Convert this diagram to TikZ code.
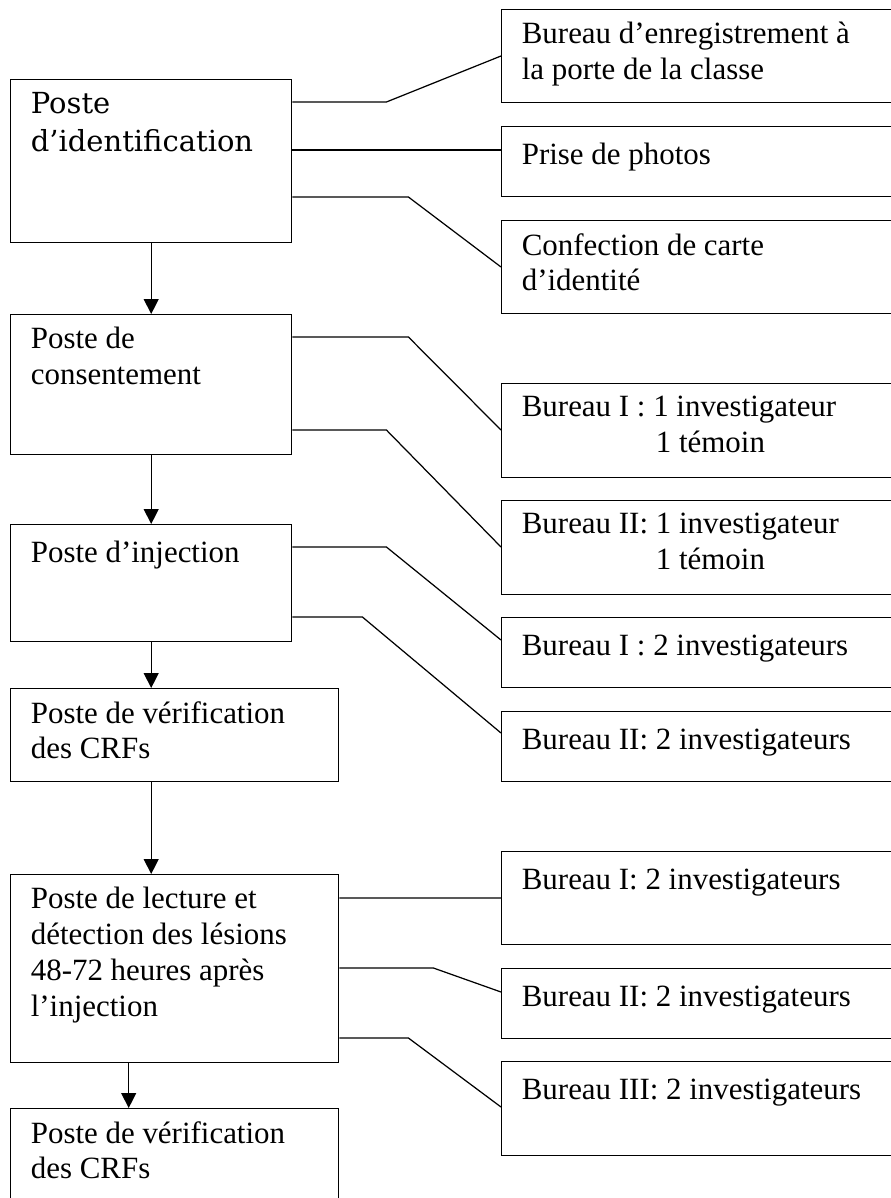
\documentclass[tikz,border=0pt]{standalone}
\usepackage{fontspec}
\setmainfont{Liberation Serif}
\newfontfamily\bookman{DejaVu Serif}
\usetikzlibrary{arrows.meta,positioning,calc}

\tikzset{
  poste/.style={draw, line width=0.8pt, anchor=north west, inner sep=0pt},
  bureau/.style={poste, minimum width=8cm},
  txt/.style={anchor=north west, align=left, inner sep=0pt, xshift=0.41cm, yshift=-0.26cm,
    font=\fontsize{17.6}{20.4}\selectfont, execute at begin node=\strut},
  lien/.style={line width=0.7pt},
  fleche/.style={line width=0.7pt, -{Triangle[width=0.3cm,length=0.3cm]}}
}

\begin{document}
\begin{tikzpicture}
        \useasboundingbox (0,0) rectangle (17.8,-23.96);

        % Postes
        \node[poste, minimum width=5.62cm, minimum height=3.26cm, label={[txt, name=t-ident, font=\bookman\fontsize{16.5}{21.6}\selectfont]north west:Poste\\d’identification}] at (0.2,-1.58) (ident) {};
        \node[poste, minimum width=5.62cm, minimum height=2.80cm, label={[txt, name=t-consent]north west:Poste de\\consentement}] at (0.2,-6.28) (consent) {};
        \node[poste, minimum width=5.62cm, minimum height=2.34cm, label={[txt, name=t-inject]north west:Poste d’injection}] at (0.2,-10.48) (inject) {};
        \node[poste, minimum width=6.56cm, minimum height=1.86cm, label={[txt, name=t-verif1]north west:Poste de vérification\\des CRFs}] at (0.2,-13.76) (verif1) {};
        \node[poste, minimum width=6.56cm, minimum height=3.76cm, label={[txt, name=t-lecture]north west:Poste de lecture et\\détection des lésions\\48-72 heures après\\l’injection}] at (0.2,-17.48) (lecture) {};
        \node[poste, minimum width=6.56cm, minimum height=2.2cm, label={[txt, name=t-verif2]north west:Poste de vérification\\des CRFs}] at (0.2,-22.16) (verif2) {};

        % Bureaux
        \node[bureau, minimum height=1.86cm, label={[txt, name=t-enreg]north west:Bureau d’enregistrement à\\la porte de la classe}] at (10.02,-0.18) (enreg) {};
        \node[bureau, minimum height=1.40cm, label={[txt, name=t-photo]north west:Prise de photos}] at (10.02,-2.52) (photo) {};
        \node[bureau, minimum height=1.86cm, label={[txt, name=t-carte]north west:Confection de carte\\d’identité}] at (10.02,-4.40) (carte) {};
        \node[bureau, minimum height=1.88cm, label={[txt, name=t-consI]north west:Bureau I : 1 investigateur\\\hspace*{2.68cm}1 témoin}] at (10.02,-7.66) (consI) {};
        \node[bureau, minimum height=1.88cm, label={[txt, name=t-consII]north west:Bureau II: 1 investigateur\\\hspace*{2.68cm}1 témoin}] at (10.02,-10.00) (consII) {};
        \node[bureau, minimum height=1.40cm, label={[txt, name=t-injI]north west:Bureau I : 2 investigateurs}] at (10.02,-12.34) (injI) {};
        \node[bureau, minimum height=1.40cm, label={[txt, name=t-injII]north west:Bureau II: 2 investigateurs}] at (10.02,-14.22) (injII) {};
        \node[bureau, minimum height=1.86cm, label={[txt, name=t-lectI]north west:Bureau I: 2 investigateurs}] at (10.02,-17.02) (lectI) {};
        \node[bureau, minimum height=1.40cm, label={[txt, name=t-lectII]north west:Bureau II: 2 investigateurs}] at (10.02,-19.36) (lectII) {};
        \node[bureau, minimum height=1.88cm, label={[txt, name=t-lectIII]north west:Bureau III: 2 investigateurs}] at (10.02,-21.22) (lectIII) {};

        % Fleches
        \draw[fleche] (ident.south) -- (consent.north);
        \draw[fleche] (consent.south) -- (inject.north);
        \draw[fleche] (inject.south) -- (inject.south |- verif1.north);
        \draw[fleche] (verif1.south -| inject.south) -- (lecture.north -| inject.south);
        \draw[fleche] ([xshift=-0.92cm]lecture.south) -- ([xshift=-0.92cm]verif2.north);

        % Liens vers les bureaux
        \draw[lien] ([yshift=-0.46cm]ident.north east) -- ++(1.88,0) -- ([yshift=-0.94cm]enreg.north west);
        \draw[lien] ([yshift=-1.42cm]ident.north east) -- ([yshift=-0.48cm]photo.north west);
        \draw[lien] ([yshift=-2.36cm]ident.north east) -- ++(2.32,0) -- ([yshift=-0.94cm]carte.north west);
        \draw[lien] ([yshift=-0.46cm]consent.north east) -- ++(2.32,0) -- ([yshift=-0.94cm]consI.north west);
        \draw[lien] ([yshift=-2.32cm]consent.north east) -- ++(1.88,0) -- ([yshift=-0.94cm]consII.north west);
        \draw[lien] ([yshift=-0.46cm]inject.north east) -- ++(1.88,0) -- ([yshift=-0.46cm]injI.north west);
        \draw[lien] ([yshift=-1.86cm]inject.north east) -- ++(1.40,0) -- ([yshift=-0.44cm]injII.north west);
        \draw[lien] ([yshift=-0.48cm]lecture.north east) -- ([yshift=-0.94cm]lectI.north west);
        \draw[lien] ([yshift=-1.88cm]lecture.north east) -- ++(1.88,0) -- ([yshift=-0.48cm]lectII.north west);
        \draw[lien] ([yshift=-3.28cm]lecture.north east) -- ++(1.38,0) -- ([yshift=-0.92cm]lectIII.north west);

    \end{tikzpicture}
\end{document}
